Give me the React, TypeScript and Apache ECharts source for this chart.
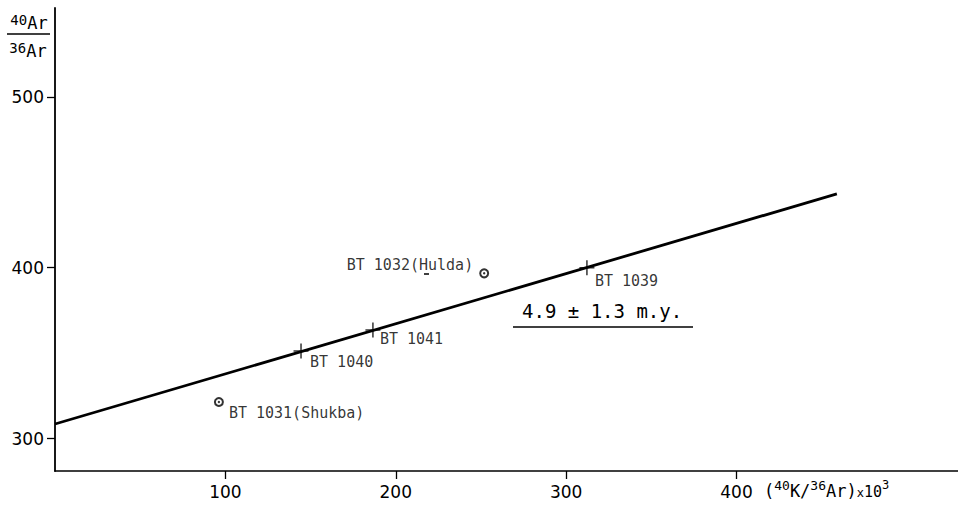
import { useEffect, useRef } from 'react';
import * as echarts from 'echarts';

// Axis ticks
const xTickValues = [100, 200, 300, 400];
const yTickValues = [300, 400, 500];

// Measured samples on the isochron (crosses)
const crossNames = ['BT 1040', 'BT 1041', 'BT 1039'];
const crossX = [144.4, 186.6, 312.2];
const crossY = [351.3, 363.6, 399.9];

// Excluded samples (open circles)
const circleNames = ['BT 1031(Shukba)', 'BT 1032(Hulda)'];
const circleX = [96.2, 251.9];
const circleY = [321.4, 396.7];

// Fitted isochron line end points
const fitX = [0, 458.9];
const fitY = [308.5, 443.2];

const ageText = '4.9 ± 1.3 m.y.';

// label placement (styling, kept apart from data)
const crossLabelOffsets = [[9, 11], [7, 9], [8, 13]];
const circleLabelOffsets = [[10, 11], [-11, -8]];
const circleLabelAlign = ['left', 'right'];

const INK = '#000';
const MONO = '"DejaVu Sans Mono", monospace';
const SANS = '"DejaVu Sans", sans-serif';

const PLUS =
  'path://M-1,-10 L1,-10 L1,-1 L10,-1 L10,1 L1,1 L1,10 L-1,10 L-1,1 L-10,1 L-10,-1 L-1,-1 Z';

export default function App() {
  const ref = useRef<HTMLDivElement>(null);

  useEffect(() => {
    if (!ref.current) return;
    const chart = echarts.init(ref.current, null, { renderer: 'svg' });

    const crossData = crossX.map((x, i) => ({
      value: [x, crossY[i]],
      name: crossNames[i],
      label: { offset: crossLabelOffsets[i], align: 'left' },
    }));
    const circleData = circleX.map((x, i) => ({
      value: [x, circleY[i]],
      name: circleNames[i],
      label: { offset: circleLabelOffsets[i], align: circleLabelAlign[i] },
    }));
    const dotData = circleX.map((x, i) => [x, circleY[i]]);
    const lineData = fitX.map((x, i) => [x, fitY[i]]);

    const labelStyle = {
      show: true,
      position: 'inside',
      verticalAlign: 'middle',
      formatter: '{b}',
      color: INK,
      fontFamily: MONO,
      fontSize: 15,
    };

    const supRich = {
      s: { fontFamily: MONO, fontSize: 14, lineHeight: 14, verticalAlign: 'top', fill: INK },
      n: { fontFamily: MONO, fontSize: 17, lineHeight: 18, verticalAlign: 'bottom', fill: INK },
    };

    const option: any = {
      animation: false,
      backgroundColor: '#fff',
      grid: { left: 55, right: 0, top: 8, bottom: 35, containLabel: false },
      xAxis: {
        type: 'value',
        min: 0,
        max: 530,
        axisLine: { show: true, onZero: false, lineStyle: { color: INK, width: 1.6 } },
        axisTick: {
          show: true,
          customValues: xTickValues,
          length: 8,
          inside: false,
          lineStyle: { color: INK, width: 1.3 },
        },
        axisLabel: {
          customValues: xTickValues,
          margin: 12,
          color: INK,
          fontFamily: SANS,
          fontSize: 17,
        },
        splitLine: { show: false },
      },
      yAxis: {
        type: 'value',
        min: 281,
        max: 552,
        axisLine: { show: true, onZero: false, lineStyle: { color: INK, width: 1.8 } },
        axisTick: {
          show: true,
          customValues: yTickValues,
          length: 8,
          inside: false,
          lineStyle: { color: INK, width: 1.3 },
        },
        axisLabel: {
          customValues: yTickValues,
          margin: 11,
          color: INK,
          fontFamily: SANS,
          fontSize: 17,
        },
        splitLine: { show: false },
      },
      series: [
        {
          type: 'line',
          data: lineData,
          symbol: 'none',
          lineStyle: { color: INK, width: 2.8 },
          z: 2,
        },
        {
          type: 'scatter',
          data: crossData,
          symbol: PLUS,
          symbolSize: 15,
          itemStyle: { color: INK },
          label: labelStyle,
          z: 3,
        },
        {
          type: 'scatter',
          data: circleData,
          symbol: 'emptyCircle',
          symbolSize: 8,
          itemStyle: { color: INK, borderWidth: 1.4, borderColor: INK },
          label: labelStyle,
          z: 3,
        },
        {
          type: 'scatter',
          data: dotData,
          symbol: 'circle',
          symbolSize: 2.4,
          itemStyle: { color: INK },
          silent: true,
          z: 4,
        },
      ],
      graphic: [
        // Y-axis title: 40Ar / 36Ar
        {
          type: 'text',
          x: 29,
          y: 22,
          style: { text: '{s|40}{n|Ar}', align: 'center', verticalAlign: 'middle', fill: INK, rich: supRich },
        },
        {
          type: 'line',
          shape: { x1: 7, y1: 34, x2: 50, y2: 34 },
          style: { stroke: INK, lineWidth: 1.5 },
        },
        {
          type: 'text',
          x: 28,
          y: 50,
          style: { text: '{s|36}{n|Ar}', align: 'center', verticalAlign: 'middle', fill: INK, rich: supRich },
        },
        // X-axis title: (40K/36Ar)x10^3
        {
          type: 'text',
          x: 764,
          y: 489,
          style: {
            text: '{p|(}{s|40}{p|K/}{q|36}{p|Ar)}{x|x}{m|10}{t|3}',
            align: 'left',
            verticalAlign: 'middle',
            fill: INK,
            rich: {
              p: { fontFamily: MONO, fontSize: 17, lineHeight: 20, verticalAlign: 'bottom', fill: INK },
              s: { fontFamily: MONO, fontSize: 13, lineHeight: 14, verticalAlign: 'top', fill: INK },
              q: { fontFamily: MONO, fontSize: 13, lineHeight: 16, verticalAlign: 'top', fill: INK },
              x: { fontFamily: MONO, fontSize: 12, lineHeight: 14, verticalAlign: 'bottom', fill: INK },
              m: { fontFamily: MONO, fontSize: 15, lineHeight: 17, verticalAlign: 'bottom', fill: INK },
              t: { fontFamily: MONO, fontSize: 12, lineHeight: 12, verticalAlign: 'top', fill: INK },
            },
          },
        },
        // Age annotation
        {
          type: 'text',
          x: 522,
          y: 311,
          style: {
            text: ageText,
            align: 'left',
            verticalAlign: 'middle',
            fill: INK,
            fontFamily: MONO,
            fontSize: 19,
          },
        },
        {
          type: 'line',
          shape: { x1: 513, y1: 327, x2: 693, y2: 327 },
          style: { stroke: INK, lineWidth: 1.5 },
        },
        // small mark under the H of Hulda
        {
          type: 'line',
          shape: { x1: 424, y1: 274, x2: 429, y2: 274 },
          style: { stroke: INK, lineWidth: 1.5 },
        },
      ],
    };

    chart.setOption(option);
    return () => chart.dispose();
  }, []);

  return (
    <div
      ref={ref}
      style={{ position: 'fixed', left: 0, top: 0, width: 958, height: 506, background: '#fff' }}
    />
  );
}
